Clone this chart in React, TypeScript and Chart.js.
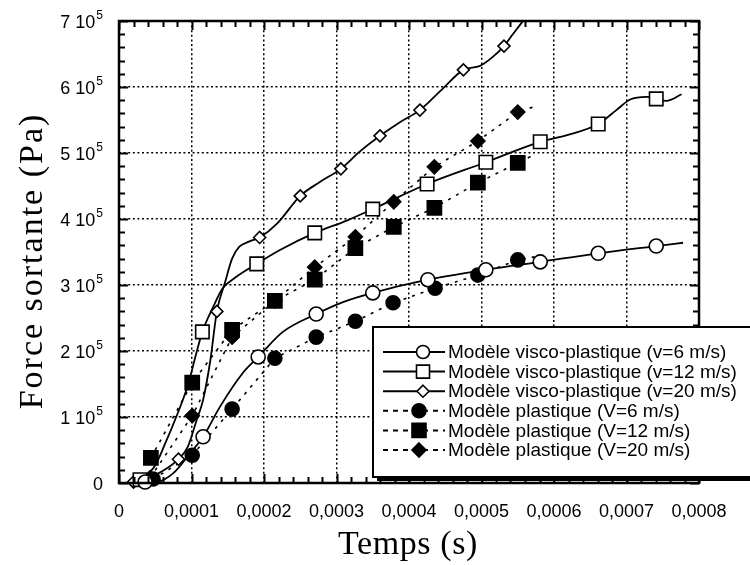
import React, { useEffect, useRef } from 'react';
import { Chart, registerables } from 'chart.js';

Chart.register(...registerables);

// ---------- axis ticks ----------
const xTickValues = [0, 1e-4, 2e-4, 3e-4, 4e-4, 5e-4, 6e-4, 7e-4, 8e-4];
const xTickLabels = ['0', '0,0001', '0,0002', '0,0003', '0,0004', '0,0005', '0,0006', '0,0007', '0,0008'];
const yTickValues = [0, 1e5, 2e5, 3e5, 4e5, 5e5, 6e5, 7e5];
const yTickMantissa = ['0', '1 10', '2 10', '3 10', '4 10', '5 10', '6 10', '7 10'];
const yTickExponent = ['', '5', '5', '5', '5', '5', '5', '5'];
const xMinorStep = 2e-5;
const yMinorStep = 2e4;

const xTitle = 'Temps (s)';
const yTitle = 'Force sortante (Pa)';

// ---------- legend labels ----------
const seriesLabels = [
  'Modèle visco-plastique (v=6 m/s)',
  'Modèle visco-plastique (v=12 m/s)',
  'Modèle visco-plastique (v=20 m/s)',
  'Modèle plastique (V=6 m/s)',
  'Modèle plastique (V=12 m/s)',
  'Modèle plastique (V=20 m/s)',
];

// ---------- visco-plastique v=6 ----------
const visco6LineT = [0.22e-4, 0.52e-4, 0.75e-4, 0.98e-4, 1.16e-4, 1.39e-4, 1.71e-4, 1.92e-4, 2.26e-4, 2.72e-4, 3.09e-4, 3.5e-4, 4.26e-4, 5.06e-4, 5.81e-4, 6.61e-4, 7.41e-4, 7.78e-4];
const visco6LineF = [0, 0.015e5, 0.15e5, 0.45e5, 0.7e5, 1.15e5, 1.67e5, 1.91e5, 2.29e5, 2.56e5, 2.74e5, 2.88e5, 3.08e5, 3.23e5, 3.35e5, 3.48e5, 3.59e5, 3.64e5];
const visco6MarkT = [0.36e-4, 1.16e-4, 1.92e-4, 2.72e-4, 3.5e-4, 4.26e-4, 5.06e-4, 5.81e-4, 6.61e-4, 7.41e-4];
const visco6MarkF = [0.015e5, 0.7e5, 1.91e5, 2.56e5, 2.88e5, 3.08e5, 3.23e5, 3.35e5, 3.48e5, 3.59e5];

// ---------- visco-plastique v=12 ----------
const visco12LineT = [0.22e-4, 0.33e-4, 0.5e-4, 0.63e-4, 0.8e-4, 0.95e-4, 1.06e-4, 1.15e-4, 1.3e-4, 1.43e-4, 1.6e-4, 1.9e-4, 2.22e-4, 2.7e-4, 3.15e-4, 3.5e-4, 4.25e-4, 5.06e-4, 5.81e-4, 6.18e-4, 6.61e-4, 6.86e-4, 7.05e-4, 7.28e-4, 7.41e-4, 7.55e-4, 7.76e-4];
const visco12LineF = [0, 0.07e5, 0.27e5, 0.58e5, 1.03e5, 1.48e5, 1.94e5, 2.29e5, 2.67e5, 2.95e5, 3.11e5, 3.32e5, 3.53e5, 3.79e5, 3.98e5, 4.15e5, 4.53e5, 4.86e5, 5.17e5, 5.27e5, 5.44e5, 5.65e5, 5.81e5, 5.85e5, 5.82e5, 5.79e5, 5.89e5];
const visco12MarkT = [0.29e-4, 1.15e-4, 1.9e-4, 2.7e-4, 3.5e-4, 4.25e-4, 5.06e-4, 5.81e-4, 6.61e-4, 7.41e-4];
const visco12MarkF = [0.05e5, 2.29e5, 3.32e5, 3.79e5, 4.15e5, 4.53e5, 4.86e5, 5.17e5, 5.44e5, 5.82e5];

// ---------- visco-plastique v=20 ----------
const visco20LineT = [0.15e-4, 0.2e-4, 0.5e-4, 0.82e-4, 0.95e-4, 1.07e-4, 1.16e-4, 1.26e-4, 1.35e-4, 1.46e-4, 1.56e-4, 1.66e-4, 1.8e-4, 1.94e-4, 2.18e-4, 2.5e-4, 2.77e-4, 3.06e-4, 3.32e-4, 3.6e-4, 3.88e-4, 4.15e-4, 4.47e-4, 4.75e-4, 4.98e-4, 5.16e-4, 5.31e-4, 5.44e-4, 5.6e-4];
const visco20LineF = [0, 0.015e5, 0.12e5, 0.36e5, 0.55e5, 0.95e5, 1.26e5, 1.86e5, 2.6e5, 3.03e5, 3.4e5, 3.58e5, 3.66e5, 3.72e5, 3.93e5, 4.35e5, 4.56e5, 4.76e5, 5.02e5, 5.26e5, 5.47e5, 5.65e5, 5.98e5, 6.26e5, 6.32e5, 6.46e5, 6.62e5, 6.81e5, 7.04e5];
const visco20MarkT = [0.2e-4, 0.82e-4, 1.35e-4, 1.94e-4, 2.5e-4, 3.06e-4, 3.6e-4, 4.15e-4, 4.75e-4, 5.31e-4];
const visco20MarkF = [0.015e5, 0.36e5, 2.6e5, 3.72e5, 4.35e5, 4.76e5, 5.26e5, 5.65e5, 6.26e5, 6.62e5];

// ---------- plastique V=6 ----------
const plast6T = [0.47e-4, 1.01e-4, 1.56e-4, 2.15e-4, 2.72e-4, 3.26e-4, 3.78e-4, 4.36e-4, 4.95e-4, 5.5e-4];
const plast6F = [0.06e5, 0.42e5, 1.12e5, 1.89e5, 2.21e5, 2.45e5, 2.73e5, 2.95e5, 3.15e5, 3.38e5];
const plast6EndT = [5.8e-4];
const plast6EndF = [3.44e5];

// ---------- plastique V=12 ----------
const plast12T = [0.44e-4, 1.01e-4, 1.56e-4, 2.15e-4, 2.7e-4, 3.26e-4, 3.79e-4, 4.35e-4, 4.95e-4, 5.5e-4];
const plast12F = [0.38e5, 1.52e5, 2.32e5, 2.76e5, 3.08e5, 3.56e5, 3.88e5, 4.17e5, 4.55e5, 4.85e5];
const plast12EndT = [5.72e-4];
const plast12EndF = [4.97e5];

// ---------- plastique V=20 ----------
const plast20T = [0.43e-4, 1.01e-4, 1.56e-4, 2.15e-4, 2.7e-4, 3.26e-4, 3.79e-4, 4.35e-4, 4.95e-4, 5.5e-4];
const plast20F = [0.08e5, 1.02e5, 2.21e5, 2.76e5, 3.27e5, 3.73e5, 4.26e5, 4.79e5, 5.18e5, 5.62e5];
const plast20EndT = [5.72e-4];
const plast20EndF = [5.7e5];

const pts = (xs: number[], ys: number[]) => xs.map((x, i) => ({ x, y: ys[i] }));

const SANS = '"Liberation Sans", Arial, Helvetica, sans-serif';
const SERIF = '"Liberation Serif", "Times New Roman", Times, serif';

type MarkerKind = 'circle' | 'rect' | 'rectRot';

function drawMarker(ctx: CanvasRenderingContext2D, kind: MarkerKind, x: number, y: number, size: number, filled: boolean) {
  ctx.beginPath();
  if (kind === 'circle') {
    ctx.arc(x, y, size, 0, Math.PI * 2);
  } else if (kind === 'rect') {
    ctx.rect(x - size, y - size, size * 2, size * 2);
  } else {
    ctx.moveTo(x, y - size);
    ctx.lineTo(x + size, y);
    ctx.lineTo(x, y + size);
    ctx.lineTo(x - size, y);
    ctx.closePath();
  }
  ctx.fillStyle = filled ? '#000' : '#fff';
  ctx.fill();
  ctx.lineWidth = 1.6;
  ctx.strokeStyle = '#000';
  ctx.stroke();
}

const legendMarkers: { kind: MarkerKind; filled: boolean; size: number }[] = [
  { kind: 'circle', filled: false, size: 6.5 },
  { kind: 'rect', filled: false, size: 6.5 },
  { kind: 'rectRot', filled: false, size: 6 },
  { kind: 'circle', filled: true, size: 7 },
  { kind: 'rect', filled: true, size: 7 },
  { kind: 'rectRot', filled: true, size: 7 },
];

const framePlugin = {
  id: 'frameAndLegend',
  afterDraw(chart: any) {
    const { ctx, chartArea: a, scales } = chart;
    const xs = scales.x;
    const ys = scales.y;
    ctx.save();
    ctx.strokeStyle = '#000';
    ctx.lineWidth = 2;
    ctx.setLineDash([]);
    // minor & major ticks, inward, on all four sides
    ctx.beginPath();
    const xMax = xs.max;
    for (let k = 0; k * xMinorStep <= xMax + 1e-12; k++) {
      const v = k * xMinorStep;
      const px = Math.round(xs.getPixelForValue(v)) + 0.5;
      const len = k % 5 === 0 ? 9 : 6;
      ctx.moveTo(px, a.bottom);
      ctx.lineTo(px, a.bottom - len);
      ctx.moveTo(px, a.top);
      ctx.lineTo(px, a.top + len);
    }
    const yMax = ys.max;
    for (let k = 0; k * yMinorStep <= yMax + 1e-6; k++) {
      const v = k * yMinorStep;
      const py = Math.round(ys.getPixelForValue(v)) + 0.5;
      const len = k % 5 === 0 ? 9 : 6;
      ctx.moveTo(a.left, py);
      ctx.lineTo(a.left + len, py);
      ctx.moveTo(a.right, py);
      ctx.lineTo(a.right - len, py);
    }
    ctx.stroke();
    // frame
    ctx.lineWidth = 2.5;
    ctx.strokeRect(a.left, a.top, a.right - a.left, a.bottom - a.top);

    // y tick labels: mantissa "N 10" with raised exponent
    ctx.fillStyle = '#000';
    ctx.textBaseline = 'alphabetic';
    ctx.textAlign = 'right';
    for (let i = 0; i < yTickValues.length; i++) {
      const py = ys.getPixelForValue(yTickValues[i]);
      const exp = yTickExponent[i];
      const rightEdge = a.left - 16;
      if (exp) {
        ctx.font = `12px ${SANS}`;
        const ew = ctx.measureText(exp).width;
        ctx.fillText(exp, rightEdge, py - 2);
        ctx.font = `18px ${SANS}`;
        ctx.fillText(yTickMantissa[i], rightEdge - ew - 1, py + 6.5);
      } else {
        ctx.font = `18px ${SANS}`;
        ctx.fillText(yTickMantissa[i], rightEdge, py + 6.5);
      }
    }

    // axis titles
    ctx.textAlign = 'center';
    ctx.textBaseline = 'middle';
    ctx.font = `34px ${SERIF}`;
    (ctx as any).letterSpacing = '0.6px';
    ctx.fillText(xTitle, (a.left + a.right) / 2 - 1, 545);
    ctx.save();
    ctx.translate(33, 261);
    ctx.rotate(-Math.PI / 2);
    (ctx as any).letterSpacing = '2px';
    ctx.fillText(yTitle, 0, 0);
    ctx.restore();
    (ctx as any).letterSpacing = '0px';

    // legend box
    const bx = 373;
    const by = 327;
    const bw = 390;
    const bh = 150;
    ctx.fillStyle = '#000';
    ctx.fillRect(bx + 4, by + 4, bw, bh);
    ctx.fillStyle = '#fff';
    ctx.fillRect(bx, by, bw, bh);
    ctx.lineWidth = 2;
    ctx.strokeRect(bx, by, bw, bh);

    const rowY0 = 352;
    const rowGap = 19.6;
    for (let i = 0; i < seriesLabels.length; i++) {
      const y = rowY0 + i * rowGap;
      const m = legendMarkers[i];
      const dashed = i >= 3;
      const mx = dashed ? 419 : 423;
      ctx.strokeStyle = '#000';
      ctx.lineWidth = 2;
      ctx.beginPath();
      ctx.setLineDash(dashed ? [5, 5] : []);
      ctx.moveTo(383, y);
      ctx.lineTo(445, y);
      ctx.stroke();
      ctx.setLineDash([]);
      drawMarker(ctx, m.kind, mx, y, m.size, m.filled);
      ctx.fillStyle = '#000';
      ctx.font = `19px ${SANS}`;
      ctx.textBaseline = 'middle';
      ctx.textAlign = 'left';
      ctx.fillText(seriesLabels[i], 448, y + 1);
    }
    ctx.restore();
  },
};

export default function App() {
  const ref = useRef<HTMLCanvasElement | null>(null);

  useEffect(() => {
    if (!ref.current) return;

    const lineBase = {
      type: 'line',
      showLine: true,
      pointRadius: 0,
      borderColor: '#000',
      fill: false,
      cubicInterpolationMode: 'monotone',
    };
    const markBase = {
      type: 'line',
      showLine: false,
      pointBorderColor: '#000',
      pointBorderWidth: 1.6,
      clip: false,
    };

    const datasets: any[] = [
      // markers (drawn on top: lower index is drawn last)
      { ...markBase, label: seriesLabels[0], data: pts(visco6MarkT, visco6MarkF), pointStyle: 'circle', pointRadius: 7, pointBackgroundColor: '#fff' },
      { ...markBase, label: seriesLabels[1], data: pts(visco12MarkT, visco12MarkF), pointStyle: 'rect', pointRadius: 9.5, pointBackgroundColor: '#fff' },
      { ...markBase, label: seriesLabels[2], data: pts(visco20MarkT, visco20MarkF), pointStyle: 'rectRot', pointRadius: 6, pointBackgroundColor: '#fff' },
      { ...markBase, label: seriesLabels[3], data: pts(plast6T, plast6F), pointStyle: 'circle', pointRadius: 7, pointBackgroundColor: '#000' },
      { ...markBase, label: seriesLabels[4], data: pts(plast12T, plast12F), pointStyle: 'rect', pointRadius: 10, pointBackgroundColor: '#000' },
      { ...markBase, label: seriesLabels[5], data: pts(plast20T, plast20F), pointStyle: 'rectRot', pointRadius: 7, pointBackgroundColor: '#000' },
      // curves
      { ...lineBase, label: seriesLabels[0] + ' courbe', data: pts(visco6LineT, visco6LineF), borderWidth: 1.8 },
      { ...lineBase, label: seriesLabels[1] + ' courbe', data: pts(visco12LineT, visco12LineF), borderWidth: 1.8 },
      { ...lineBase, label: seriesLabels[2] + ' courbe', data: pts(visco20LineT, visco20LineF), borderWidth: 1.8 },
      { ...lineBase, label: seriesLabels[3] + ' courbe', data: pts(plast6T.concat(plast6EndT), plast6F.concat(plast6EndF)), borderWidth: 1.6, borderDash: [3, 6], cubicInterpolationMode: 'default', tension: 0 },
      { ...lineBase, label: seriesLabels[4] + ' courbe', data: pts(plast12T.concat(plast12EndT), plast12F.concat(plast12EndF)), borderWidth: 1.6, borderDash: [3, 6], cubicInterpolationMode: 'default', tension: 0 },
      { ...lineBase, label: seriesLabels[5] + ' courbe', data: pts(plast20T.concat(plast20EndT), plast20F.concat(plast20EndF)), borderWidth: 1.6, borderDash: [3, 6], cubicInterpolationMode: 'default', tension: 0 },
    ];

    const chart = new Chart(ref.current, {
      type: 'line',
      data: { datasets },
      options: {
        responsive: false,
        animation: false,
        layout: { padding: { top: 21, right: 51, left: 0, bottom: 0 } },
        plugins: {
          legend: { display: false },
          tooltip: { enabled: false },
          title: { display: false },
        },
        scales: {
          x: {
            type: 'linear',
            min: 0,
            max: 8e-4,
            afterBuildTicks: (s: any) => {
              s.ticks = xTickValues.map((v) => ({ value: v }));
            },
            afterFit: (s: any) => {
              s.height = 82;
            },
            ticks: {
              callback: (_v: any, i: number) => xTickLabels[i],
              font: { family: SANS, size: 18 },
              color: '#000',
              padding: 18,
              maxRotation: 0,
              autoSkip: false,
            },
            grid: { color: '#000', lineWidth: 1.5, drawTicks: false },
            border: { display: false, dash: [2, 2.6] },
            title: { display: false, text: xTitle },
          },
          y: {
            type: 'linear',
            min: 0,
            max: 7e5,
            afterBuildTicks: (s: any) => {
              s.ticks = yTickValues.map((v) => ({ value: v }));
            },
            afterFit: (s: any) => {
              s.width = 119;
            },
            ticks: {
              display: false,
              callback: (_v: any, i: number) => yTickMantissa[i] + yTickExponent[i],
              autoSkip: false,
            },
            grid: { color: '#000', lineWidth: 1.5, drawTicks: false },
            border: { display: false, dash: [2, 2.6] },
            title: { display: false, text: yTitle },
          },
        },
      },
      plugins: [framePlugin],
    } as any);

    return () => chart.destroy();
  }, []);

  return (
    <div style={{ position: 'absolute', left: 0, top: 0, width: 750, height: 565, background: '#fff' }}>
      <canvas ref={ref} width={750} height={565} style={{ display: 'block' }} />
    </div>
  );
}
